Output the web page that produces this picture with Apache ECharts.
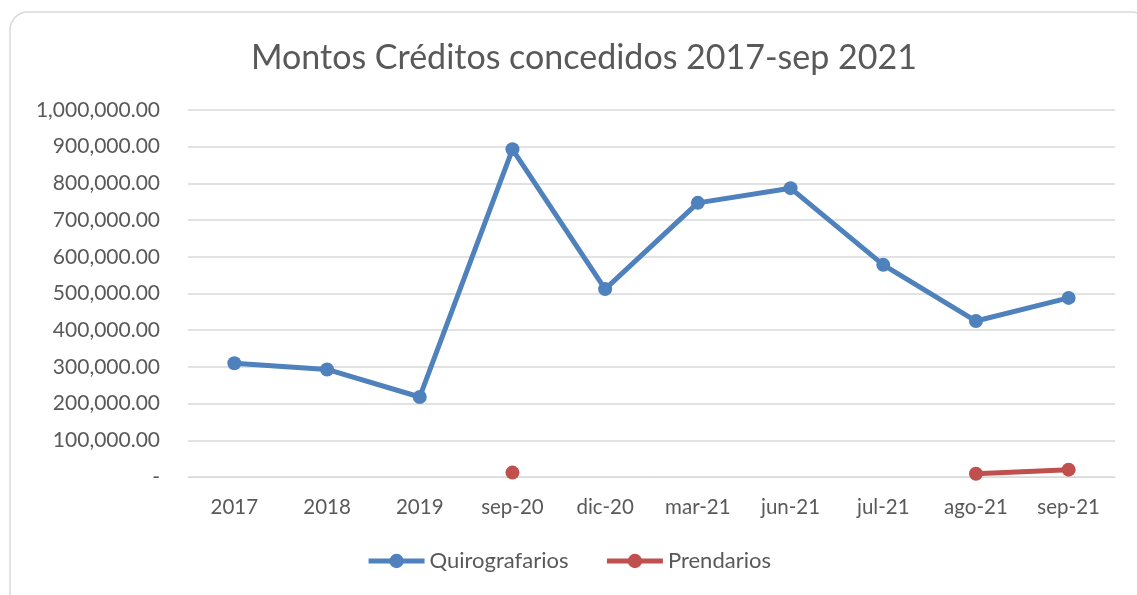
<!DOCTYPE html>
<html>
<head>
<meta charset="utf-8">
<script src="https://cdn.jsdelivr.net/npm/echarts@6/dist/echarts.min.js"></script>
<style>
  html, body { margin: 0; padding: 0; background: #fff; }
  #chart { width: 1137px; height: 595px; }
</style>
</head>
<body>
<div id="chart"></div>
<script>
const categories = ['2017', '2018', '2019', 'sep-20', 'dic-20', 'mar-21', 'jun-21', 'jul-21', 'ago-21', 'sep-21'];
const quirografarios = [310000, 293000, 218000, 893000, 512000, 747000, 787000, 578000, 425000, 488000];
const prendarios = [null, null, null, 12000, null, null, null, null, 9000, 20000];
const seriesNames = ['Quirografarios', 'Prendarios'];

const fontFamily = 'Lato, "Open Sans", sans-serif';
const textColor = '#595959';

function formatMoney(v) {
    if (v === 0) return '-';
    return v.toLocaleString('en-US', { minimumFractionDigits: 2, maximumFractionDigits: 2 });
}

const chartDom = document.getElementById('chart');
const myChart = echarts.init(chartDom);

const option = {
    backgroundColor: '#fff',
    graphic: [{
        type: 'rect',
        shape: { x: 10, y: 12, width: 1140, height: 600, r: 18 },
        style: { fill: 'none', stroke: '#d9d9d9', lineWidth: 1.5 },
        silent: true
    }],
    title: {
        text: 'Montos Créditos concedidos 2017-sep 2021',
        left: 246,
        top: 36,
        textStyle: {
            fontFamily: fontFamily,
            fontSize: 34,
            fontWeight: 'normal',
            color: textColor
        }
    },
    legend: {
        data: seriesNames,
        bottom: 18,
        left: 'center',
        itemWidth: 56,
        itemHeight: 18,
        itemGap: 36,
        lineStyle: { width: 5 },
        textStyle: {
            fontFamily: fontFamily,
            fontSize: 22,
            color: textColor
        }
    },
    grid: {
        left: 188,
        right: 22,
        top: 110,
        bottom: 118
    },
    xAxis: {
        type: 'category',
        data: categories,
        axisLine: { lineStyle: { color: '#d9d9d9' } },
        axisTick: { show: false },
        axisLabel: {
            fontFamily: fontFamily,
            fontSize: 20.5,
            color: textColor,
            margin: 20
        }
    },
    yAxis: {
        type: 'value',
        min: 0,
        max: 1000000,
        interval: 100000,
        axisLine: { show: false },
        axisTick: { show: false },
        splitLine: { lineStyle: { color: '#d9d9d9', width: 1.5 } },
        axisLabel: {
            fontFamily: fontFamily,
            fontSize: 21,
            color: textColor,
            margin: 28,
            formatter: formatMoney
        }
    },
    series: [
        {
            name: seriesNames[0],
            type: 'line',
            data: quirografarios,
            color: '#4f81bd',
            symbol: 'circle',
            symbolSize: 14,
            lineStyle: { width: 5, color: '#4f81bd' },
            itemStyle: { color: '#4f81bd' }
        },
        {
            name: seriesNames[1],
            type: 'line',
            data: prendarios,
            color: '#c0504d',
            symbol: 'circle',
            symbolSize: 14,
            connectNulls: false,
            lineStyle: { width: 5, color: '#c0504d' },
            itemStyle: { color: '#c0504d' }
        }
    ]
};

myChart.setOption(option);
</script>
</body>
</html>
